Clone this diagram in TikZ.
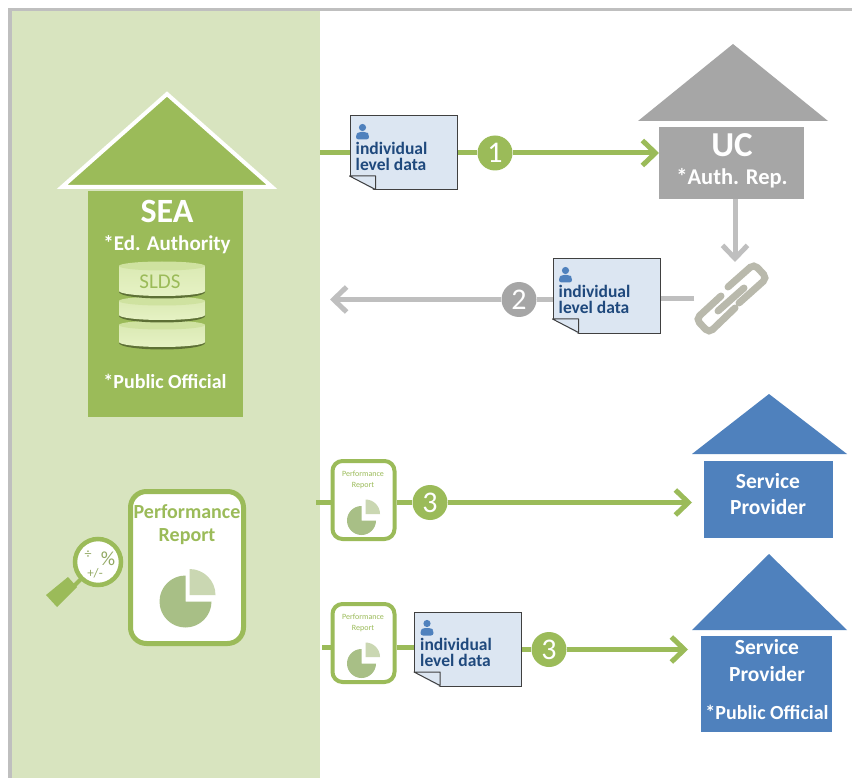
\documentclass[tikz,border=0pt]{standalone}
\usepackage{fontspec}
\setmainfont{Carlito}
\usetikzlibrary{arrows.meta}
\definecolor{leaf}{HTML}{9BBB59}
\definecolor{pale}{HTML}{D8E4BF}
\definecolor{ash}{HTML}{A6A6A6}
\definecolor{ashline}{HTML}{BFBFBF}
\definecolor{sky}{HTML}{4F81BD}
\definecolor{ink}{HTML}{1F497D}
\definecolor{sheet}{HTML}{DCE6F2}
\definecolor{piebig}{HTML}{A8BF86}
\definecolor{piesmall}{HTML}{CAD7B2}
\definecolor{disc}{HTML}{E6F2C4}
\definecolor{disctop}{HTML}{CFE2A0}
\tikzstyle{body}=[draw=none, inner sep=0pt, anchor=north west]
\tikzstyle{datadoc}=[draw=black!75, fill=sheet, line width=1pt, minimum width=107pt, minimum height=74pt, inner sep=0pt]
\tikzstyle{doctext}=[font=\fontsize{17.5}{16}\selectfont\bfseries, text=ink, align=left, inner sep=0pt, anchor=west]
\tikzstyle{step_num}=[circle, minimum size=35pt, inner sep=0pt, text=white, font=\fontsize{30}{30}\selectfont]
\tikzstyle{report}=[draw=leaf, fill=white, inner sep=0pt]
\tikzstyle{greenedge}=[draw=leaf, line width=5pt]
\tikzstyle{greyedge}=[draw=ashline, line width=5pt]
\tikzstyle{tip}=[-{Straight Barb[length=13pt,width=25pt]}]
\tikzstyle{chain}=[draw=ashline!90!olive, line width=7pt, line cap=round, rounded corners=5pt]
\tikzstyle{whitetext}=[text=white, inner sep=0pt, align=center]

\newcommand{\makedoc}[2]{
  \node[datadoc] (#1) at (#2) {};
  \begin{scope}[shift={(#1.north west)}]
    \fill[white] (-1.5,60) -- (-1.5,75.5) -- (26,75.5) -- cycle;
    \draw[draw=black!75, fill=sheet, line width=1pt, line join=round] (0,60.5) -- (26,74) -- (26,60.5) -- cycle;
    \fill[sky] (13,12) circle (3.6);
    \fill[sky, rounded corners=2.5pt] (6.5,24) -- (6.5,19) -- (9,16.5) -- (17,16.5) -- (19.5,19) -- (19.5,24) -- cycle;
    \node[doctext] (#1text) at (6,41) {individual\\level data};
  \end{scope}
}
\newcommand{\makepie}[3]{
  \fill[piebig] (#1-1.5,#2+1.5) -- ++(0:#3) arc (0:270:#3) -- cycle;
  \fill[piesmall] (#1+2.5,#2-5) -- ++(270:#3) arc (270:360:#3) -- cycle;
}

\begin{document}
\begin{tikzpicture}[x=1pt, y=-1pt]
  \useasboundingbox (0,0) rectangle (852,778);
  % background
  \fill[white] (0,0) rectangle (852,778);
  \fill[ashline] (8,8) rectangle (852,11);
  \fill[ashline] (8,8) rectangle (12,778);
  \fill[pale] (12,11) rectangle (320,778);

  % houses
  \fill[leaf] (167,92) -- (59,188) -- (275,188) -- cycle;
  \draw[white, line width=4pt, line join=miter] (167,94) -- (62,187) -- (272,187) -- cycle;
  \node[body, fill=leaf, minimum width=155pt, minimum height=226pt] (sea) at (88,191) {};
  \node[whitetext, font=\fontsize{34}{34}\selectfont\bfseries] (seaname) at (167,211) {SEA};
  \node[whitetext, font=\fontsize{21}{21}\selectfont\bfseries] (seaauth) at (167,245) {*Ed. Authority};
  \node[whitetext, font=\fontsize{20}{20}\selectfont\bfseries] (seapub) at (165,381) {*Public Official};

  \fill[ash] (733,44) -- (638,121) -- (828,121) -- cycle;
  \node[body, fill=ash, minimum width=145pt, minimum height=72pt] (uc) at (659,127) {};
  \node[whitetext, font=\fontsize{35}{35}\selectfont\bfseries] (ucname) at (732,145) {UC};
  \node[whitetext, font=\fontsize{22.5}{22.5}\selectfont\bfseries] (ucauth) at (732,178) {*Auth. Rep.};

  \fill[sky] (769,394) -- (692,454) -- (847,454) -- cycle;
  \node[body, fill=sky, minimum width=129pt, minimum height=77pt] (spa) at (704,461) {};
  \node[whitetext, font=\fontsize{21.5}{26}\selectfont\bfseries] (spaname) at (768,494) {Service\\Provider};

  \fill[sky] (769,554) -- (692,630) -- (847,630) -- cycle;
  \node[body, fill=sky, minimum width=131pt, minimum height=96pt] (spb) at (701,636) {};
  \node[whitetext, font=\fontsize{21.5}{27}\selectfont\bfseries] (spbname) at (767,661) {Service\\Provider};
  \node[whitetext, font=\fontsize{20}{20}\selectfont\bfseries] (spbpub) at (767,712) {*Public Official};

  % database
  \foreach \top/\bot in {320/348, 296/321, 261/297} {
    \fill[leaf!60!black] (119,\top+5) -- (119,\bot-5) arc (180:0:43 and 6.5) -- (205,\top+5) -- cycle;
    \shade[top color=disc!85!leaf, bottom color=disc] (119,\top+5) -- (119,\bot-6) arc (180:0:43 and 5) -- (205,\top+5) -- cycle;
    \fill[disctop] (162,\top+5) ellipse (43 and 4.5);
  }
  \node[text=leaf, inner sep=0pt, font=\fontsize{21}{21}\selectfont] (slds) at (160,282) {SLDS};

  % reports
  \node[report, line width=5pt, rounded corners=16pt, minimum width=113pt, minimum height=152pt] (repmain) at (187,567.5) {};
  \node[text=leaf, inner sep=0pt, align=center, font=\fontsize{20}{23}\selectfont\bfseries] (repmaintext) at (187,525) {Performance\\Report};
  \makepie{187}{600}{26}

  \foreach \name/\ypos in {repa/500, repb/643} {
    \node[report, line width=4pt, rounded corners=10pt, minimum width=62pt, minimum height=78pt] (\name) at (363.5,\ypos) {};
    \node[text=leaf, inner sep=0pt, align=center, font=\fontsize{8}{11}\selectfont] (\name text) at (363,\ypos-20) {Performance\\Report};
    \makepie{363}{\ypos+19}{14.5}
  }

  % magnifier
  \draw[leaf, line width=4pt] (82,578) -- (72,588);
  \fill[leaf] (46,595) -- (57,607) -- (77,587) -- (68,577) -- cycle;
  \node[circle, draw=leaf, fill=white, line width=4.5pt, minimum size=46pt, inner sep=0pt] (lens) at (98,562) {};
  \node[text=leaf!70!gray, inner sep=0pt, font=\fontsize{14}{14}\selectfont] (lensdiv) at (88,555) {÷};
  \node[text=leaf!70!gray, inner sep=0pt, font=\fontsize{20}{20}\selectfont] (lenspct) at (108,559) {\%};
  \node[text=leaf!70!gray, inner sep=0pt, font=\fontsize{13}{13}\selectfont] (lenspm) at (95,573) {+/-};

  % documents and numbers
  \makedoc{docone}{403.5,153}
  \makedoc{doctwo}{606.5,296}
  \makedoc{docthree}{468,649}
  \node[step_num, fill=leaf] (numone) at (495,153) {1};
  \node[step_num, fill=ash] (numtwo) at (519,299.5) {2};
  \node[step_num, fill=leaf] (numa) at (430,502.5) {3};
  \node[step_num, fill=leaf] (numb) at (549,649.5) {3};

  % free ends
  \coordinate (startone) at (320,153);
  \coordinate (endtwo) at (330,299.5);
  \coordinate (starta) at (316,502.5);
  \coordinate (startb) at (322,647);
  \coordinate (linktop) at (735,262);
  \coordinate (linkleft) at (694,299);
  \coordinate (tipa) at (692,502.5);
  \coordinate (tipb) at (688,649.5);

  % chain link
  \path[chain] (728,287) -- (754,264) -- (767,278) -- (739,303);
  \path[chain] (735,308) -- (709,333) -- (696,319) -- (721,296);
  \path[chain, rounded corners=0pt] (718,311) -- (744,288);

  % connectors
  \path[greenedge] (startone) -- (docone);
  \path[greenedge] (docone) -- (numone);
  \path[greenedge, tip] (numone) -- (uc.west |- numone);
  \path[greyedge, tip] (uc.south -| linktop) -- (linktop);
  \path[greyedge] (linkleft) -- (doctwo.east |- linkleft);
  \path[greyedge] (doctwo.west |- numtwo) -- (numtwo);
  \path[greyedge, tip] (numtwo) -- (endtwo);
  \path[greenedge] (starta) -- (repa.west |- starta);
  \path[greenedge] (repa.east |- numa) -- (numa);
  \path[greenedge, tip] (numa) -- (tipa);
  \path[greenedge] (startb) -- (repb.west |- startb);
  \path[greenedge] (repb.east |- startb) -- (docthree.west |- startb);
  \path[greenedge] (docthree.east |- numb) -- (numb);
  \path[greenedge, tip] (numb) -- (tipb);
\end{tikzpicture}
\end{document}
